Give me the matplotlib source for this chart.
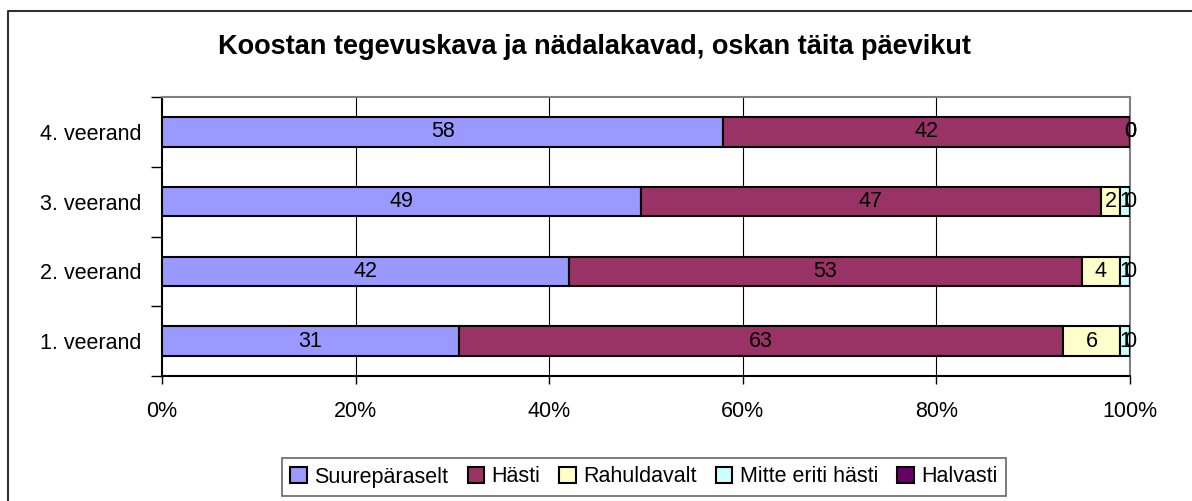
#!/usr/bin/env python3

import numpy as np
import matplotlib
matplotlib.use('Agg')
import matplotlib.pyplot as plt
import matplotlib.lines as mlines

plt.rcParams['font.family'] = ['Liberation Sans', 'DejaVu Sans']

categories = ['1. veerand', '2. veerand', '3. veerand', '4. veerand']
series_names = ['Suurepäraselt', 'Hästi', 'Rahuldavalt', 'Mitte eriti hästi', 'Halvasti']
suureparaselt = [31, 42, 49, 58]
hasti = [63, 53, 47, 42]
rahuldavalt = [6, 4, 2, 0]
mitte_eriti = [1, 1, 1, 0]
halvasti = [0, 0, 0, 0]
x_ticks = [0, 20, 40, 60, 80, 100]
x_tick_labels = ['0%', '20%', '40%', '60%', '80%', '100%']
title = 'Koostan tegevuskava ja nädalakavad, oskan täita päevikut'

colors = ['#9999FF', '#993366', '#FFFFCC', '#CCFFFF', '#660066']
FS = 15.5


def main():
    fig = plt.figure(figsize=(11.92, 5.01), dpi=100)
    ax = fig.add_axes([162 / 1192, 1 - 376 / 501, 968 / 1192, 279 / 501])

    values = np.array([suureparaselt, hasti, rahuldavalt, mitte_eriti, halvasti], dtype=float)
    # each row is scaled to 100 %
    totals = values.sum(axis=0)
    shares = values / totals * 100
    y = np.arange(len(categories))

    left = np.zeros(len(categories))
    for i in range(len(series_names)):
        ax.barh(y, shares[i], left=left, height=0.42, color=colors[i],
                edgecolor='black', linewidth=1.5, label=series_names[i], zorder=3)
        for j in range(len(categories)):
            ax.text(left[j] + shares[i][j] / 2, y[j], '%d' % values[i][j],
                    ha='center', va='center', fontsize=FS, zorder=4)
        left = left + shares[i]

    ax.set_xlim(0, 100)
    ax.set_ylim(-0.5, len(categories) - 0.5)
    ax.set_xticks(x_ticks)
    ax.set_xticklabels(x_tick_labels, fontsize=FS)
    ax.set_yticks(y)
    ax.set_yticklabels(categories, fontsize=FS)
    ax.set_yticks(np.arange(-0.5, len(categories)), minor=True)
    ax.tick_params(axis='y', which='major', length=0, pad=15)
    ax.tick_params(axis='y', which='minor', length=8, width=1, color='black')
    ax.tick_params(axis='x', length=6, width=1, pad=12, color='black')

    for gx in x_ticks[1:-1]:
        ax.axvline(gx, color='black', linewidth=0.8, zorder=1)

    ax.spines['top'].set_color('#808080')
    ax.spines['right'].set_color('#808080')
    ax.spines['left'].set_color('black')
    ax.spines['bottom'].set_color('black')
    for s in ax.spines.values():
        s.set_linewidth(1.5)

    fig.text(0.499, 1 - 47 / 501, title, ha='center', va='center',
             fontsize=19.5, fontweight='bold')

    leg = fig.legend(loc='center', bbox_to_anchor=(644 / 1192, 1 - 477 / 501),
                     ncol=5, fontsize=FS, frameon=True, fancybox=False,
                     handlelength=0.75, handleheight=0.75, handletextpad=0.35,
                     columnspacing=0.9, borderpad=0.4)
    leg.get_frame().set_edgecolor('#404040')
    leg.get_frame().set_linewidth(1.2)

    # outer chart frame, left and top edges only visible
    frame = mlines.Line2D([8 / 1192, 8 / 1192, 1.01], [-0.01, 1 - 11 / 501, 1 - 11 / 501],
                          transform=fig.transFigure, color='#303030', linewidth=1.5)
    fig.lines.append(frame)

    fig.savefig('out.png', dpi=100)


if __name__ == "__main__":
    main()
